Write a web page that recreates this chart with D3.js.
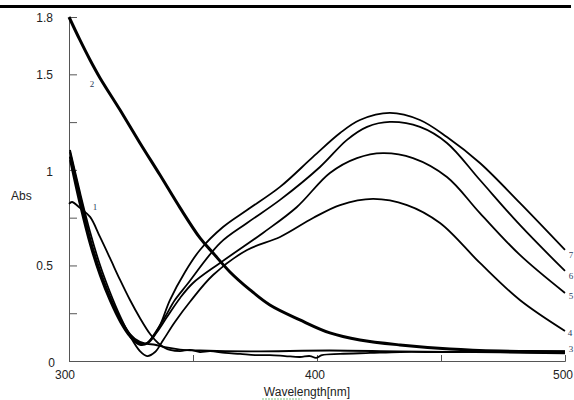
<!DOCTYPE html>
<html>
<head>
<meta charset="utf-8">
<script src="https://cdn.jsdelivr.net/npm/d3@7"></script>
<style>
  body { margin: 0; background: #fff; }
  svg { display: block; }
</style>
</head>
<body>
<div class="chart"></div>
<script>
// wavelength (nm) / absorbance pairs
var curve1 = [[300,0.822],[301.2,0.832],[304.4,0.801],[308.5,0.754],[312.5,0.649],[316.5,0.539],[320.6,0.424],[324.6,0.319],[328.6,0.225],[332.7,0.141],[335.9,0.094],[338.7,0.068],[340.7,0.058],[344.8,0.052],[348.8,0.058],[352.8,0.047],[356.9,0.052],[362.9,0.042],[369,0.037],[375,0.031],[381,0.031],[387.1,0.026],[393.1,0.021],[397.2,0.026],[399.6,0.016],[402,0.031],[409.3,0.037],[421.4,0.042],[433.5,0.047],[453.6,0.047],[473.8,0.052],[500,0.052]];
var curve2 = [[300,1.8],[304.4,1.68],[308.5,1.575],[312.5,1.481],[320.6,1.313],[328.6,1.141],[336.7,0.973],[344.8,0.801],[352.8,0.644],[358.1,0.565],[364.9,0.466],[373,0.372],[381,0.293],[393.1,0.215],[405.2,0.147],[417.3,0.11],[433.5,0.084],[453.6,0.063],[473.8,0.052],[500,0.047]];
var curve3 = [[300.4,1.07],[304.4,0.85],[308.5,0.63],[312.5,0.465],[316.5,0.33],[320.6,0.22],[324.6,0.14],[328.6,0.1],[331.5,0.09],[334.7,0.085],[338.7,0.072],[344.8,0.06],[352.8,0.055],[373,0.05],[405.2,0.055],[433.5,0.05],[473.8,0.045],[500,0.04]];
var curve4 = [[300.4,1.104],[304.4,0.884],[308.5,0.675],[312.5,0.502],[316.5,0.361],[320.6,0.235],[324.6,0.131],[328.6,0.052],[331.5,0.026],[334.7,0.047],[338,0.11],[342.7,0.204],[348.8,0.31],[358.1,0.45],[371.8,0.581],[385.1,0.649],[398.4,0.748],[409.3,0.816],[422.6,0.848],[436.3,0.816],[449.6,0.722],[465.7,0.513],[481.8,0.319],[500,0.157]];
var curve5 = [[300.4,1.052],[304.4,0.816],[308.5,0.607],[312.5,0.445],[316.5,0.314],[320.6,0.204],[324.6,0.126],[328.6,0.084],[331.9,0.094],[335.5,0.152],[339.5,0.23],[344.8,0.33],[350,0.408],[360.9,0.513],[378.2,0.67],[391.9,0.806],[405.2,0.984],[416.1,1.062],[426.6,1.088],[438.7,1.062],[452.4,0.963],[465.7,0.774],[481.8,0.555],[500,0.356]];
var curve6 = [[300.4,1.068],[304.4,0.843],[308.5,0.623],[312.5,0.461],[316.5,0.324],[320.6,0.215],[324.6,0.131],[328.6,0.089],[331.5,0.094],[334.7,0.147],[338.7,0.23],[342.7,0.319],[347.6,0.4],[360.9,0.617],[371.8,0.722],[385.1,0.843],[401.2,1.015],[412.1,1.157],[420.2,1.225],[429.4,1.251],[441.5,1.225],[452.4,1.141],[465.7,0.947],[481.8,0.712],[500,0.471]];
var curve7 = [[300.4,1.094],[304.4,0.869],[308.5,0.644],[312.5,0.476],[316.5,0.34],[320.6,0.225],[324.6,0.141],[327.8,0.099],[330.6,0.089],[333.5,0.12],[336.7,0.188],[340.7,0.319],[346.8,0.466],[352.8,0.581],[362.1,0.701],[371.8,0.79],[385.1,0.911],[398.4,1.068],[409.3,1.193],[417.3,1.261],[429.4,1.298],[441.5,1.261],[452.4,1.172],[465.7,1.036],[481.8,0.827],[500,0.581]];

var curveNames = ["1", "2", "3", "4", "5", "6", "7"];
var xTicks = [300, 350, 400, 450, 500];
var xTickLabels = ["300", "", "400", "", "500"];
var yTicks = [0, 0.25, 0.5, 0.75, 1, 1.25, 1.5, 1.8];
var yTickLabels = ["0", "", "0.5", "", "1", "", "1.5", "1.8"];

var width = 574;
var height = 400;

var svg = d3.select(".chart")
  .append("svg")
  .attr("width", width)
  .attr("height", height);

// thick rule across the top
svg.append("rect")
  .attr("x", 0).attr("y", 5)
  .attr("width", 571).attr("height", 3)
  .attr("fill", "#000");

var xScale = d3.scaleLinear().domain([300, 500]).range([69, 565]);
var yScale = d3.scaleLinear().domain([0, 1.8]).range([361, 17]);

// axes, ticks pointing inward
var xAxis = d3.axisBottom(xScale).tickValues(xTicks).tickSize(-6).tickFormat("");
var yAxis = d3.axisLeft(yScale).tickValues(yTicks).tickSize(-8).tickFormat("");

var gx = svg.append("g").attr("transform", "translate(0,361)").call(xAxis);
var gy = svg.append("g").attr("transform", "translate(69,0)").call(yAxis);
gx.select(".domain").attr("stroke", "#555");
gy.select(".domain").attr("stroke", "#555");
gx.selectAll(".tick line").attr("stroke", "#555");
gy.selectAll(".tick line").attr("stroke", "#555");

// tick labels
svg.selectAll(".ylab")
  .data(yTicks).enter()
  .append("text")
  .attr("class", "ylab")
  .attr("x", function (d) { return d == 0 ? 55 : 53 })
  .attr("y", function (d) { return d == 0 ? 367 : (d == 1 ? yScale(d) + 6 : yScale(d) + 4.5) })
  .attr("text-anchor", "end")
  .style("font-family", "Liberation Sans, Arial, sans-serif")
  .style("font-size", "12px")
  .style("fill", "#222")
  .text(function (d, i) { return yTickLabels[i] });

svg.selectAll(".xlab")
  .data(xTicks).enter()
  .append("text")
  .attr("class", "xlab")
  .attr("x", function (d) { return d == 300 ? 65 : xScale(d) - 2 })
  .attr("y", 379)
  .attr("text-anchor", "middle")
  .style("font-family", "Liberation Sans, Arial, sans-serif")
  .style("font-size", "12px")
  .style("fill", "#222")
  .text(function (d, i) { return xTickLabels[i] });

svg.append("text")
  .attr("x", 11).attr("y", 200)
  .style("font-family", "Liberation Sans, Arial, sans-serif")
  .style("font-size", "12px")
  .style("fill", "#222")
  .text("Abs");

svg.append("text")
  .attr("x", 307).attr("y", 396)
  .attr("text-anchor", "middle")
  .style("font-family", "Liberation Sans, Arial, sans-serif")
  .style("font-size", "12px")
  .style("fill", "#222")
  .text("Wavelength[nm]");
// spell-check squiggle under the axis title
svg.append("line")
  .attr("x1", 262).attr("x2", 302).attr("y1", 399).attr("y2", 399)
  .attr("stroke", "#7fc47f").attr("stroke-width", 1).attr("stroke-dasharray", "2,1");

// spectra
var line = d3.line()
  .x(function (d) { return xScale(d[0]) })
  .y(function (d) { return yScale(d[1]) })
  .curve(d3.curveCatmullRom);

var series = [curve1, curve2, curve3, curve4, curve5, curve6, curve7];
svg.selectAll(".spec")
  .data(series).enter()
  .append("path")
  .attr("class", "spec")
  .attr("d", function (d) { return line(d) })
  .style("fill", "none")
  .style("stroke", "#000")
  .style("stroke-width", function (d, i) { return i == 1 ? 3 : 1.8 })
  .style("stroke-linejoin", "round");

// curve numbers
var labelPos = [[95, 210], [92, 87], [571, 352], [570, 336], [571, 299], [571, 279], [571, 258]];
svg.selectAll(".clab")
  .data(curveNames).enter()
  .append("text")
  .attr("class", "clab")
  .attr("x", function (d, i) { return labelPos[i][0] })
  .attr("y", function (d, i) { return labelPos[i][1] })
  .attr("text-anchor", "middle")
  .style("font-family", "Liberation Serif, Times New Roman, serif")
  .style("font-size", "9px")
  .style("fill", "#2a3a5a")
  .text(function (d) { return d });
</script>
</body>
</html>
